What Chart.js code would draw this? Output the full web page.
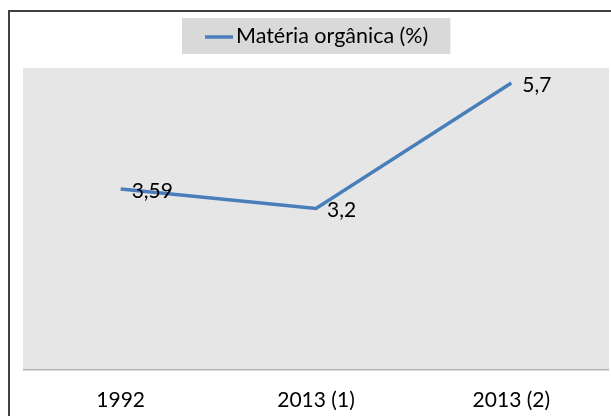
<!DOCTYPE html>
<html>
<head>
<meta charset="utf-8">
<script src="https://cdn.jsdelivr.net/npm/chart.js@4/dist/chart.umd.min.js"></script>
<style>
  html, body { margin: 0; padding: 0; background: #fff; overflow: hidden; }
  #wrap { width: 611px; height: 416px; }
</style>
</head>
<body>
<div id="wrap"><canvas id="myChart" width="611" height="416"></canvas></div>
<script>
var categories = ['1992', '2013 (1)', '2013 (2)'];
var seriesName = 'Matéria orgânica (%)';
var materia = [3.59, 3.2, 5.7];

var lineColour = '#4a7ebb';
var fontFam = 'Lato, "Open Sans", sans-serif';
var fontSize = 21;

function fmt(v){
	return String(v).replace('.', ',');
}

// frame, plot background, axis line and the legend box
var backPlugin = {
	id: 'backPlugin',
	beforeDraw: function(chart){
		var ctx = chart.ctx;
		var a = chart.chartArea;
		ctx.save();
		ctx.fillStyle = '#fff';
		ctx.fillRect(0, 0, chart.width, chart.height);
		ctx.strokeStyle = '#404040';
		ctx.lineWidth = 2;
		ctx.beginPath();
		ctx.moveTo(9, chart.height);
		ctx.lineTo(9, 11);
		ctx.lineTo(chart.width, 11);
		ctx.stroke();
		ctx.fillStyle = '#e6e6e6';
		ctx.fillRect(a.left, a.top, a.right - a.left, a.bottom - a.top);
		ctx.fillStyle = '#b3b3b3';
		ctx.fillRect(a.left, a.bottom, a.right - a.left, 1.5);

		// legend
		var ds = chart.data.datasets[0];
		ctx.font = '21.5px ' + fontFam;
		var tw = ctx.measureText(ds.label).width;
		var lineW = 28, gap = 3;
		var boxW = lineW + gap + tw + 45;
		var cx = (a.left + a.right) / 2;
		var bx = Math.round(cx - boxW / 2);
		ctx.fillStyle = '#d9d9d9';
		ctx.fillRect(bx, 18, boxW, 36);
		ctx.strokeStyle = ds.borderColor;
		ctx.lineWidth = 3.5;
		ctx.beginPath();
		ctx.moveTo(bx + 23, 37);
		ctx.lineTo(bx + 23 + lineW, 37);
		ctx.stroke();
		ctx.fillStyle = '#000';
		ctx.textBaseline = 'middle';
		ctx.fillText(ds.label, bx + 23 + lineW + gap, 36);
		ctx.restore();
	},
	afterDraw: function(chart){
		var ctx = chart.ctx;
		var a = chart.chartArea;
		ctx.save();
		ctx.fillStyle = '#fff';
		ctx.fillRect(a.right, a.bottom + 2, chart.width - a.right, chart.height - a.bottom);
		ctx.restore();
	}
};

var labelPlugin = {
	id: 'labelPlugin',
	afterDatasetsDraw: function(chart){
		var ctx = chart.ctx;
		var meta = chart.getDatasetMeta(0);
		ctx.save();
		ctx.font = fontSize + 'px ' + fontFam;
		ctx.fillStyle = '#000';
		ctx.textBaseline = 'middle';
		ctx.textAlign = 'left';
		for(var i=0; i<meta.data.length; i++){
			var p = meta.data[i];
			ctx.fillText(fmt(materia[i]), p.x + 11, p.y + 2);
		}
		ctx.restore();
	}
};

let myChart = document.getElementById('myChart').getContext('2d');
let orgChart = new Chart(myChart, {
	type: 'line',
	data: {
		labels: categories,
		datasets: [{
			label: seriesName,
			data: materia,
			borderColor: lineColour,
			backgroundColor: lineColour,
			borderWidth: 3.5,
			pointRadius: 0,
			tension: 0,
			fill: false
		}]
	},
	options: {
		responsive: false,
		animation: false,
		layout: { autoPadding: false, padding: { left: 23, right: 2, top: 68, bottom: 0 } },
		plugins: {
			legend: { display: false },
			tooltip: { enabled: false }
		},
		scales: {
			x: {
				offset: true,
				grid: { display: false, drawTicks: false },
				border: { display: false },
				ticks: { font: { family: fontFam, size: fontSize }, color: '#000', padding: 19 },
				afterFit: function(s){ s.height = 47; }
			},
			y: {
				display: false,
				min: 0,
				max: 6
			}
		}
	},
	plugins: [backPlugin, labelPlugin]
});
</script>
</body>
</html>
